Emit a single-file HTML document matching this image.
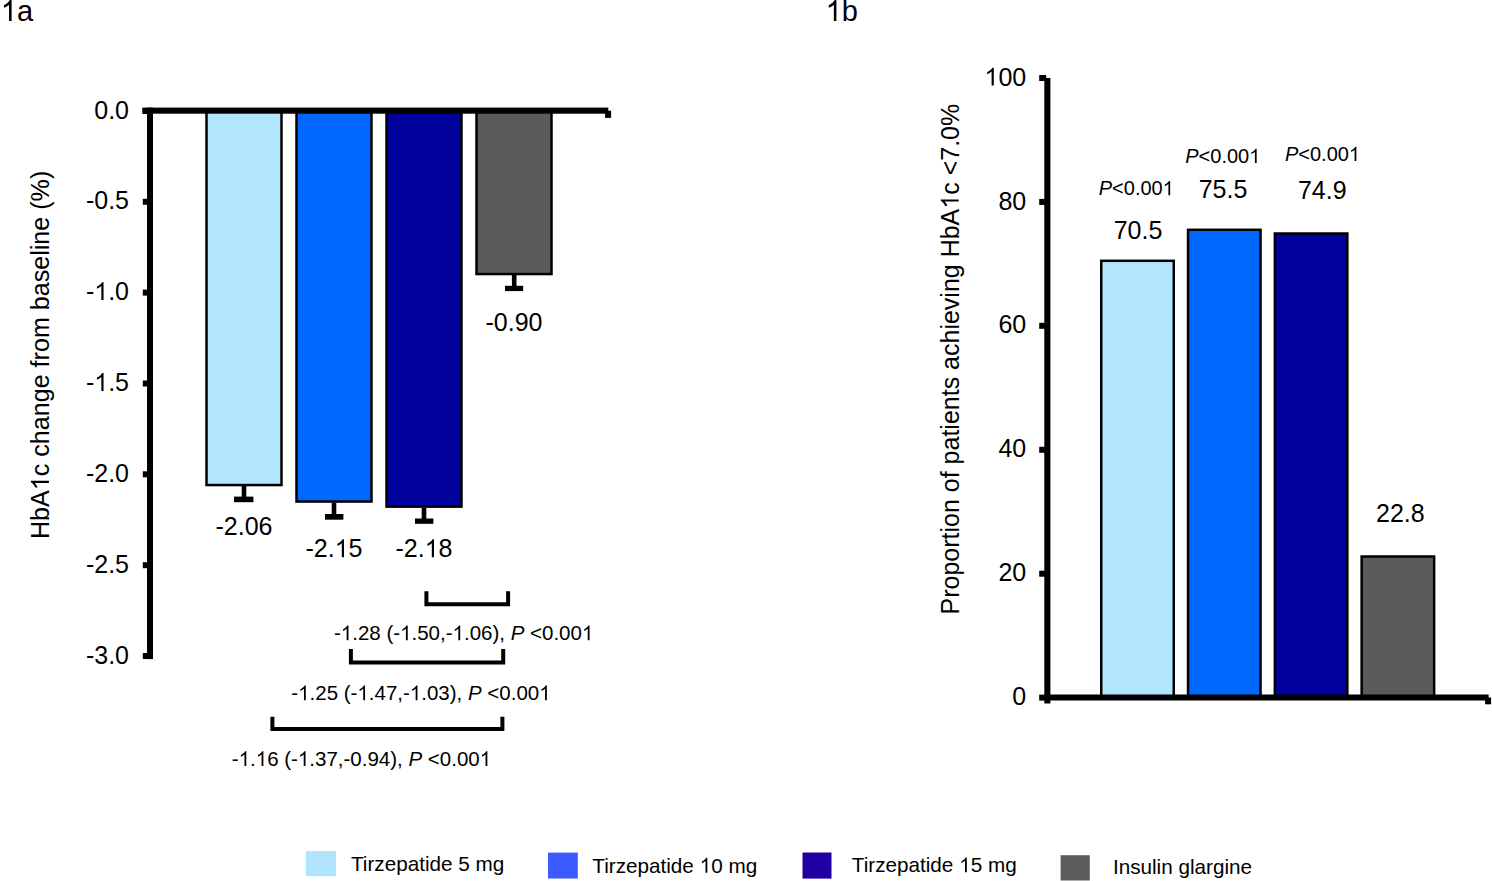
<!DOCTYPE html>
<html><head><meta charset="utf-8"><style>
html,body{margin:0;padding:0;background:#fff;}
svg{display:block;}
text{font-family:"Liberation Sans",sans-serif;fill:#000;}
.h1{fill-opacity:0;}
</style></head><body>
<svg width="1492" height="881" viewBox="0 0 1492 881">

<!-- panel titles -->
<text x="0.8" y="20.9" font-size="29"><tspan class="h1">1</tspan>a</text>
<text x="825.6" y="20.9" font-size="29"><tspan class="h1">1</tspan>b</text>

<!-- ===== Chart 1a ===== -->
<!-- bars -->
<g stroke="#000" stroke-width="2.5">
<rect x="206.5" y="110" width="75" height="375.05" fill="#B2E6FE"/>
<rect x="296.5" y="110" width="75" height="391.55" fill="#0068FF"/>
<rect x="386.5" y="110" width="75" height="396.65" fill="#00009C"/>
<rect x="476.5" y="110" width="75" height="164.05" fill="#5B5B5B"/>
</g>
<!-- error bars -->
<g fill="#000">
<rect x="241.7" y="486" width="4.6" height="12"/><rect x="234" y="496.6" width="19.4" height="5.6"/>
<rect x="331.7" y="502.5" width="4.6" height="13"/><rect x="325" y="514" width="18.4" height="5.7"/>
<rect x="421.7" y="507.6" width="4.6" height="12"/><rect x="415" y="518.5" width="18.4" height="5.3"/>
<rect x="511.9" y="275" width="4.6" height="11"/><rect x="505" y="285.8" width="18.2" height="5.3"/>
</g>
<!-- axes -->
<g fill="#000">
<rect x="142.3" y="107.6" width="466" height="6.1"/>
<rect x="605.1" y="110.7" width="6" height="7.2"/>
<rect x="147" y="107.6" width="6" height="551.5"/>
<rect x="142.8" y="108" width="6" height="6"/>
<rect x="142.8" y="198.8" width="6" height="6"/>
<rect x="142.8" y="289.6" width="6" height="6"/>
<rect x="142.8" y="380.5" width="6" height="6"/>
<rect x="142.8" y="471.3" width="6" height="6"/>
<rect x="142.8" y="562.2" width="6" height="6"/>
<rect x="142.8" y="653" width="6" height="6"/>
</g>
<g font-size="25" text-anchor="end">
<text x="129" y="118.5">0.0</text>
<text x="129" y="209.3">-0.5</text>
<text x="129" y="300.1">-<tspan class="h1">1</tspan>.0</text>
<text x="129" y="391">-<tspan class="h1">1</tspan>.5</text>
<text x="129" y="481.8">-2.0</text>
<text x="129" y="572.7">-2.5</text>
<text x="129" y="663.5">-3.0</text>
</g>
<text transform="translate(48.9,539) rotate(-90)" font-size="25.1">HbA<tspan class="h1">1</tspan>c change from baseline (%)</text>
<!-- value labels -->
<g font-size="25" text-anchor="middle">
<text x="244" y="535">-2.06</text>
<text x="334" y="557.2">-2.<tspan class="h1">1</tspan>5</text>
<text x="424" y="557.2">-2.<tspan class="h1">1</tspan>8</text>
<text x="514" y="330.7">-0.90</text>
</g>
<!-- brackets -->
<g fill="none" stroke="#000" stroke-width="4">
<path d="M426.4,591.3 V604.2 H508.1 V591.3"/>
<path d="M350.9,649 V662.6 H503.2 V649"/>
<path d="M272.4,716.7 V729.1 H502.4 V716.7"/>
</g>
<g font-size="20.5">
<text x="334" y="640.3">-<tspan class="h1">1</tspan>.28 (-<tspan class="h1">1</tspan>.50,-<tspan class="h1">1</tspan>.06), <tspan font-style="italic">P</tspan> &lt;0.00<tspan class="h1">1</tspan></text>
<text x="291.3" y="700.3">-<tspan class="h1">1</tspan>.25 (-<tspan class="h1">1</tspan>.47,-<tspan class="h1">1</tspan>.03), <tspan font-style="italic">P</tspan> &lt;0.00<tspan class="h1">1</tspan></text>
<text x="231.8" y="766">-<tspan class="h1">1</tspan>.<tspan class="h1">1</tspan>6 (-<tspan class="h1">1</tspan>.37,-0.94), <tspan font-style="italic">P</tspan> &lt;0.00<tspan class="h1">1</tspan></text>
</g>

<!-- ===== Chart 1b ===== -->
<g stroke="#000" stroke-width="2.5">
<rect x="1101.25" y="260.8" width="72.5" height="436.7" fill="#B2E6FE"/>
<rect x="1188.05" y="229.8" width="72.5" height="467.7" fill="#0068FF"/>
<rect x="1274.85" y="233.5" width="72.5" height="464" fill="#00009C"/>
<rect x="1361.65" y="556.5" width="72.5" height="141" fill="#5B5B5B"/>
</g>
<g fill="#000">
<rect x="1044.3" y="78" width="6.1" height="625.5"/>
<rect x="1044" y="694.5" width="444.6" height="6"/>
<rect x="1485.1" y="697.5" width="6" height="6.8"/>
<rect x="1039.2" y="75" width="7" height="6"/>
<rect x="1039.2" y="198.9" width="7" height="6"/>
<rect x="1039.2" y="322.8" width="7" height="6"/>
<rect x="1039.2" y="446.8" width="7" height="6"/>
<rect x="1039.2" y="570.7" width="7" height="6"/>
<rect x="1039.2" y="694.6" width="7" height="6"/>
</g>
<g font-size="25" text-anchor="end">
<text x="1026.2" y="85.6"><tspan class="h1">1</tspan>00</text>
<text x="1026.2" y="209.5">80</text>
<text x="1026.2" y="333.4">60</text>
<text x="1026.2" y="457.4">40</text>
<text x="1026.2" y="581.3">20</text>
<text x="1026.2" y="705.2">0</text>
</g>
<text transform="translate(958.7,614.5) rotate(-90)" font-size="25">Proportion of patients achieving HbA<tspan class="h1">1</tspan>c &lt;7.0%</text>
<g font-size="25" text-anchor="middle">
<text x="1138" y="238.9">70.5</text>
<text x="1223" y="198.3">75.5</text>
<text x="1322.3" y="199.3">74.9</text>
<text x="1400.4" y="521.9">22.8</text>
</g>
<g font-size="20" text-anchor="middle">
<text x="1136.3" y="195.3"><tspan font-style="italic">P</tspan>&lt;0.00<tspan class="h1">1</tspan></text>
<text x="1222.8" y="163.1"><tspan font-style="italic">P</tspan>&lt;0.00<tspan class="h1">1</tspan></text>
<text x="1322.5" y="161.1"><tspan font-style="italic">P</tspan>&lt;0.00<tspan class="h1">1</tspan></text>
</g>

<!-- ===== Legend ===== -->
<rect x="305.8" y="851.1" width="30.1" height="25.1" fill="#B0E4FC"/>
<rect x="548" y="852.6" width="29.8" height="25.9" fill="#3B59FD"/>
<rect x="802.5" y="852.5" width="29" height="26.1" fill="#2100A2"/>
<rect x="1060.6" y="855.2" width="29.2" height="25.3" fill="#5C5C5C"/>
<g font-size="20.7">
<text x="351" y="870.9">Tirzepatide 5 mg</text>
<text x="592.3" y="872.7">Tirzepatide <tspan class="h1">1</tspan>0 mg</text>
<text x="851.8" y="872.3">Tirzepatide <tspan class="h1">1</tspan>5 mg</text>
<text x="1112.9" y="873.6">Insulin glargine</text>
</g>
<g fill="#000">
<path d="M763,0 L583,0 L583,1147 Q518,1085 415,1024 Q312,963 223,930 L223,1104 Q373,1175 486,1276 Q599,1377 643,1472 L763,1472 Z" transform="translate(0.80,20.90) scale(0.014160,-0.014160)"/>
<path d="M763,0 L583,0 L583,1147 Q518,1085 415,1024 Q312,963 223,930 L223,1104 Q373,1175 486,1276 Q599,1377 643,1472 L763,1472 Z" transform="translate(825.60,20.90) scale(0.014160,-0.014160)"/>
<path d="M763,0 L583,0 L583,1147 Q518,1085 415,1024 Q312,963 223,930 L223,1104 Q373,1175 486,1276 Q599,1377 643,1472 L763,1472 Z" transform="translate(94.23,300.10) scale(0.012207,-0.012207)"/>
<path d="M763,0 L583,0 L583,1147 Q518,1085 415,1024 Q312,963 223,930 L223,1104 Q373,1175 486,1276 Q599,1377 643,1472 L763,1472 Z" transform="translate(94.23,391.00) scale(0.012207,-0.012207)"/>
<path d="M763,0 L583,0 L583,1147 Q518,1085 415,1024 Q312,963 223,930 L223,1104 Q373,1175 486,1276 Q599,1377 643,1472 L763,1472 Z" transform="translate(48.9,539) rotate(-90) translate(48.83,0.00) scale(0.012256,-0.012256)"/>
<path d="M763,0 L583,0 L583,1147 Q518,1085 415,1024 Q312,963 223,930 L223,1104 Q373,1175 486,1276 Q599,1377 643,1472 L763,1472 Z" transform="translate(334.69,557.20) scale(0.012207,-0.012207)"/>
<path d="M763,0 L583,0 L583,1147 Q518,1085 415,1024 Q312,963 223,930 L223,1104 Q373,1175 486,1276 Q599,1377 643,1472 L763,1472 Z" transform="translate(424.69,557.20) scale(0.012207,-0.012207)"/>
<path d="M763,0 L583,0 L583,1147 Q518,1085 415,1024 Q312,963 223,930 L223,1104 Q373,1175 486,1276 Q599,1377 643,1472 L763,1472 Z" transform="translate(340.83,640.30) scale(0.010010,-0.010010)"/>
<path d="M763,0 L583,0 L583,1147 Q518,1085 415,1024 Q312,963 223,930 L223,1104 Q373,1175 486,1276 Q599,1377 643,1472 L763,1472 Z" transform="translate(400.09,640.30) scale(0.010010,-0.010010)"/>
<path d="M763,0 L583,0 L583,1147 Q518,1085 415,1024 Q312,963 223,930 L223,1104 Q373,1175 486,1276 Q599,1377 643,1472 L763,1472 Z" transform="translate(452.53,640.30) scale(0.010010,-0.010010)"/>
<path d="M763,0 L583,0 L583,1147 Q518,1085 415,1024 Q312,963 223,930 L223,1104 Q373,1175 486,1276 Q599,1377 643,1472 L763,1472 Z" transform="translate(581.92,640.30) scale(0.010010,-0.010010)"/>
<path d="M763,0 L583,0 L583,1147 Q518,1085 415,1024 Q312,963 223,930 L223,1104 Q373,1175 486,1276 Q599,1377 643,1472 L763,1472 Z" transform="translate(298.13,700.30) scale(0.010010,-0.010010)"/>
<path d="M763,0 L583,0 L583,1147 Q518,1085 415,1024 Q312,963 223,930 L223,1104 Q373,1175 486,1276 Q599,1377 643,1472 L763,1472 Z" transform="translate(357.39,700.30) scale(0.010010,-0.010010)"/>
<path d="M763,0 L583,0 L583,1147 Q518,1085 415,1024 Q312,963 223,930 L223,1104 Q373,1175 486,1276 Q599,1377 643,1472 L763,1472 Z" transform="translate(409.83,700.30) scale(0.010010,-0.010010)"/>
<path d="M763,0 L583,0 L583,1147 Q518,1085 415,1024 Q312,963 223,930 L223,1104 Q373,1175 486,1276 Q599,1377 643,1472 L763,1472 Z" transform="translate(539.22,700.30) scale(0.010010,-0.010010)"/>
<path d="M763,0 L583,0 L583,1147 Q518,1085 415,1024 Q312,963 223,930 L223,1104 Q373,1175 486,1276 Q599,1377 643,1472 L763,1472 Z" transform="translate(238.63,766.00) scale(0.010010,-0.010010)"/>
<path d="M763,0 L583,0 L583,1147 Q518,1085 415,1024 Q312,963 223,930 L223,1104 Q373,1175 486,1276 Q599,1377 643,1472 L763,1472 Z" transform="translate(255.74,766.00) scale(0.010010,-0.010010)"/>
<path d="M763,0 L583,0 L583,1147 Q518,1085 415,1024 Q312,963 223,930 L223,1104 Q373,1175 486,1276 Q599,1377 643,1472 L763,1472 Z" transform="translate(297.89,766.00) scale(0.010010,-0.010010)"/>
<path d="M763,0 L583,0 L583,1147 Q518,1085 415,1024 Q312,963 223,930 L223,1104 Q373,1175 486,1276 Q599,1377 643,1472 L763,1472 Z" transform="translate(479.71,766.00) scale(0.010010,-0.010010)"/>
<path d="M763,0 L583,0 L583,1147 Q518,1085 415,1024 Q312,963 223,930 L223,1104 Q373,1175 486,1276 Q599,1377 643,1472 L763,1472 Z" transform="translate(984.48,85.60) scale(0.012207,-0.012207)"/>
<path d="M763,0 L583,0 L583,1147 Q518,1085 415,1024 Q312,963 223,930 L223,1104 Q373,1175 486,1276 Q599,1377 643,1472 L763,1472 Z" transform="translate(958.7,614.5) rotate(-90) translate(405.81,0.00) scale(0.012207,-0.012207)"/>
<path d="M763,0 L583,0 L583,1147 Q518,1085 415,1024 Q312,963 223,930 L223,1104 Q373,1175 486,1276 Q599,1377 643,1472 L763,1472 Z" transform="translate(1162.71,195.30) scale(0.009766,-0.009766)"/>
<path d="M763,0 L583,0 L583,1147 Q518,1085 415,1024 Q312,963 223,930 L223,1104 Q373,1175 486,1276 Q599,1377 643,1472 L763,1472 Z" transform="translate(1249.21,163.10) scale(0.009766,-0.009766)"/>
<path d="M763,0 L583,0 L583,1147 Q518,1085 415,1024 Q312,963 223,930 L223,1104 Q373,1175 486,1276 Q599,1377 643,1472 L763,1472 Z" transform="translate(1348.91,161.10) scale(0.009766,-0.009766)"/>
<path d="M763,0 L583,0 L583,1147 Q518,1085 415,1024 Q312,963 223,930 L223,1104 Q373,1175 486,1276 Q599,1377 643,1472 L763,1472 Z" transform="translate(699.63,872.70) scale(0.010107,-0.010107)"/>
<path d="M763,0 L583,0 L583,1147 Q518,1085 415,1024 Q312,963 223,930 L223,1104 Q373,1175 486,1276 Q599,1377 643,1472 L763,1472 Z" transform="translate(959.13,872.30) scale(0.010107,-0.010107)"/>
</g>
</svg>
</body></html>
